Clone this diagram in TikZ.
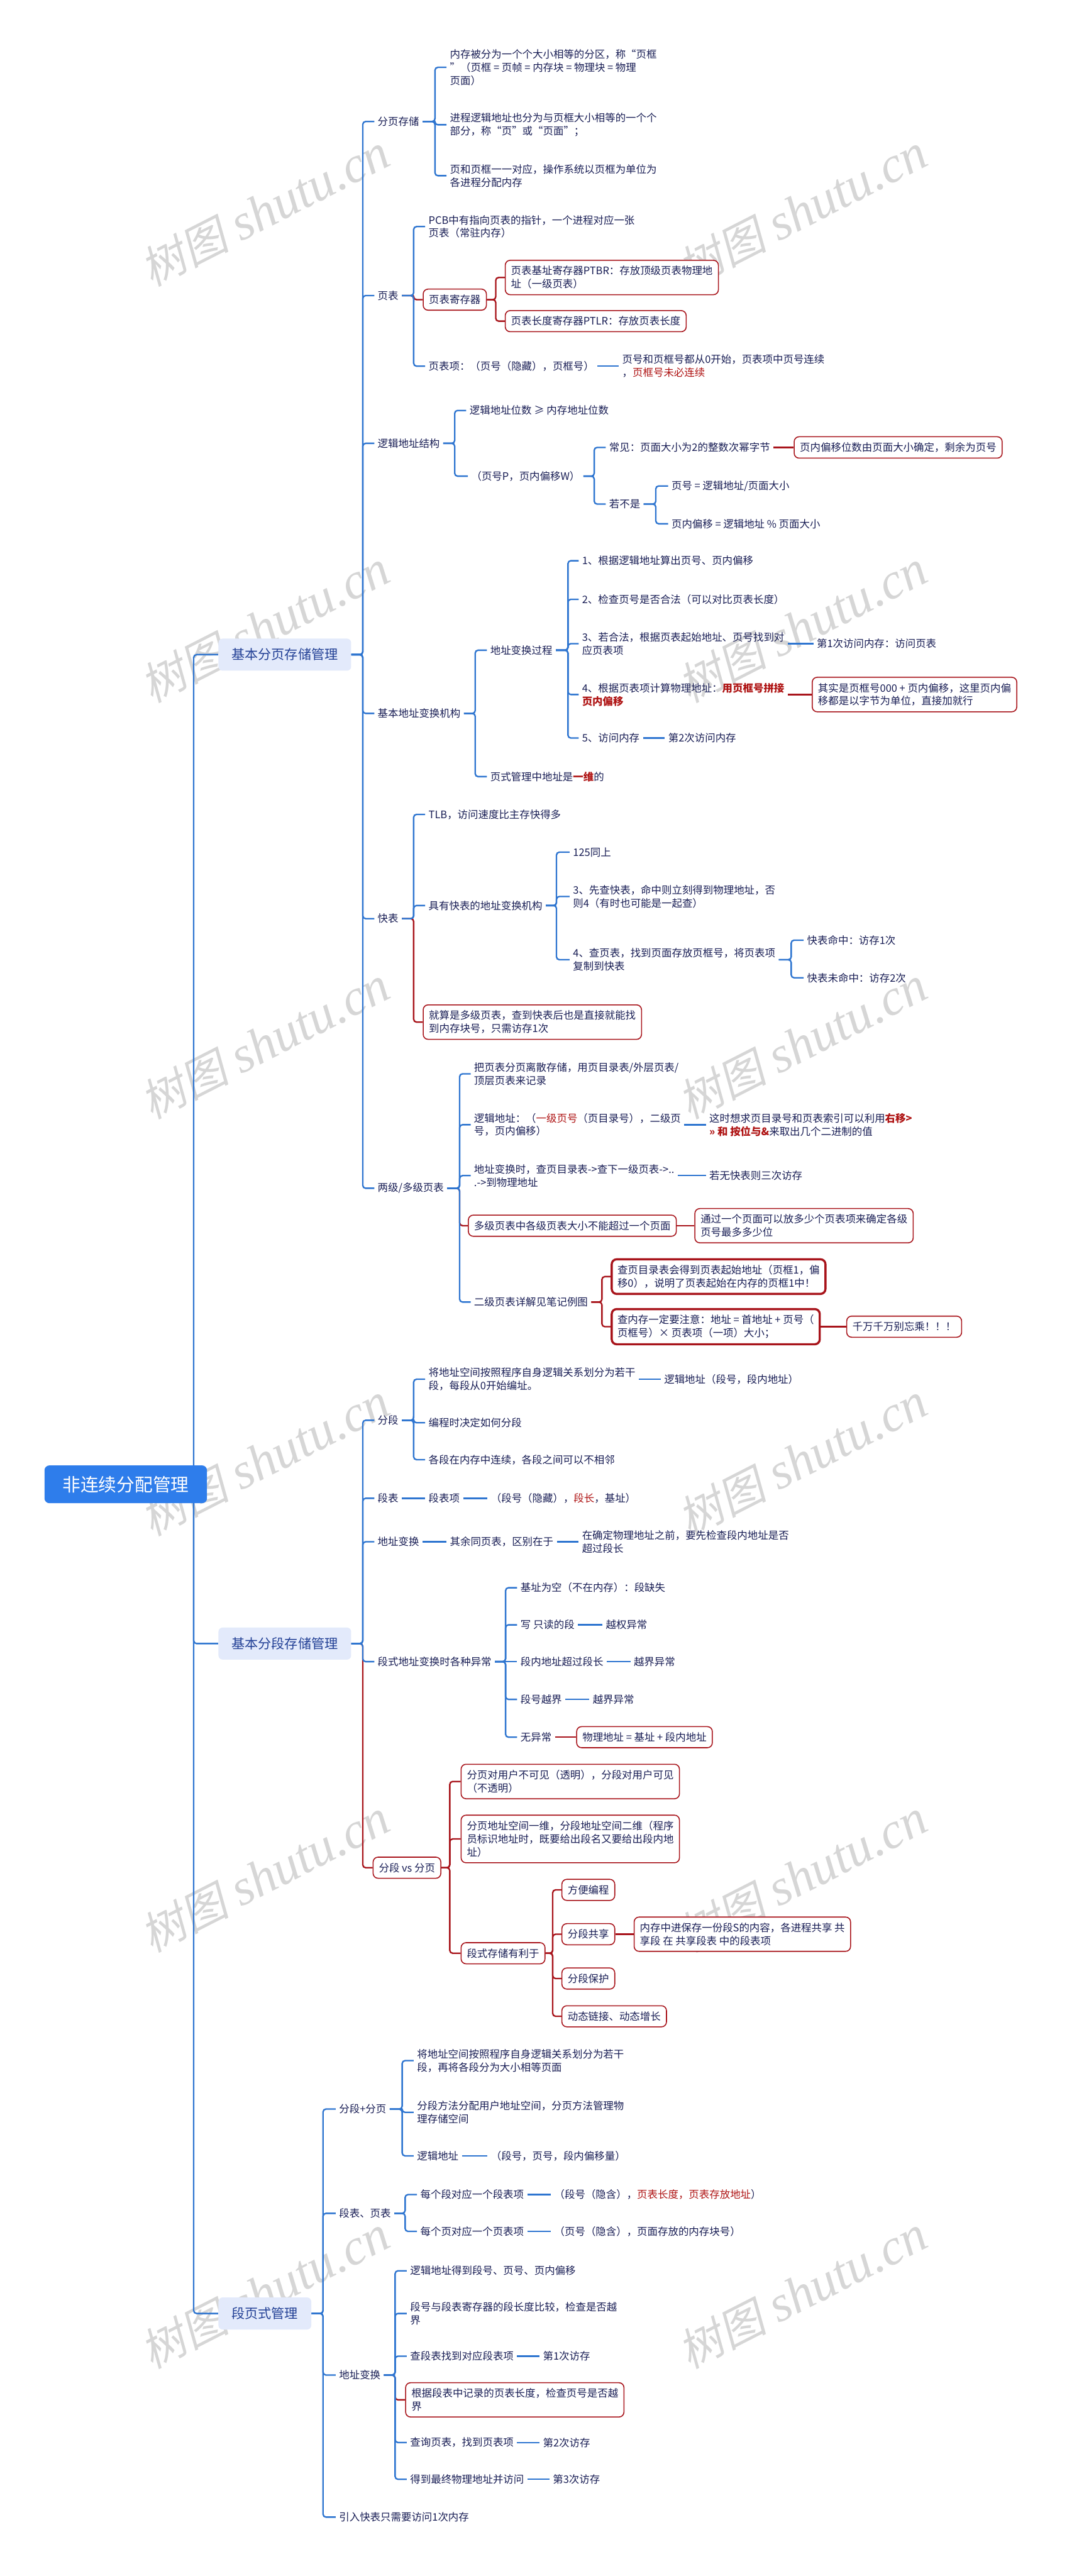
\documentclass[tikz,border=0pt]{standalone}
\usepackage{fontspec}
\setmainfont{Noto Sans CJK SC}
\newfontfamily\wmlat{Liberation Serif}
\newfontfamily\wmcjk[FakeSlant=0.2]{Noto Sans CJK SC}
\usetikzlibrary{calc}
\definecolor{navy}{RGB}{25,30,85}
\definecolor{lblue}{RGB}{46,117,208}
\definecolor{dred}{RGB}{168,20,27}
\definecolor{rtext}{RGB}{175,20,20}
\definecolor{lonefill}{RGB}{227,234,251}
\definecolor{lonetext}{RGB}{35,65,150}
\definecolor{rootblue}{RGB}{46,125,235}
\definecolor{wmgray}{RGB}{214,214,214}
\pgfdeclarelayer{bg}
\pgfsetlayers{bg,main}
\newcommand\rd[1]{{\color{rtext}#1}}
\newcommand\rdb[1]{{\bfseries\color{rtext}#1}}
\newcommand\mmbr[4]{\coordinate (tmpT) at (#4,0); \draw[conn,#1] (#2.east) -- (#2.east -| tmpT) |- (#3.west);}
\newcommand\mmch[3]{\draw[conn,#1] (#2.east) -- (#3.west);}
\newcommand\wmtxt{{\wmcjk\fontsize{54}{54}\selectfont 树图}\hspace{14pt}{\wmlat\itshape\fontsize{62}{62}\selectfont shutu.cn}}
\begin{document}
\begin{tikzpicture}[x=2pt,y=-2pt,
  tx/.style={anchor=west, xshift=-4pt, inner xsep=4pt, inner ysep=2pt, align=left, text=navy, font=\fontsize{12.6}{16}\selectfont},
  rbx/.style={anchor=west, draw=dred, line width=1.2pt, rounded corners=6pt, fill=white, inner xsep=7pt, inner ysep=7pt, align=left, text=navy, font=\fontsize{12.6}{16}\selectfont},
  trbx/.style={rbx, line width=2.6pt},
  lvone/.style={anchor=west, fill=lonefill, rounded corners=5pt, text=lonetext, font=\fontsize{16.2}{20}\selectfont, inner xsep=16pt, minimum height=39pt},
  rootst/.style={anchor=west, fill=rootblue, rounded corners=6pt, text=white, font=\fontsize{22}{26}\selectfont, inner xsep=22pt, minimum height=46pt},
  conn/.style={line width=1.8pt, rounded corners=3.5pt},
  wmst/.style={anchor=base west, rotate=27, text=wmgray, inner sep=0pt}
]
\useasboundingbox (0,0) rectangle (650,1568.9);

% root and level 1
\node[rootst] (root) at (27,904) {非连续分配管理};
\node[lvone] (P) at (133,398.7) {基本分页存储管理};
\node[lvone] (S) at (133,1001) {基本分段存储管理};
\node[lvone] (SP) at (133,1409) {段页式管理};

% ---------- 基本分页存储管理 ----------
\node[tx] (p1) at (230,74) {分页存储};
\node[tx] (p1a) at (274,41) {内存被分为一个个大小相等的分区，称“页框\\”（页框 = 页帧 = 内存块 = 物理块 = 物理\\页面）};
\node[tx] (p1b) at (274,76) {进程逻辑地址也分为与页框大小相等的一个个\\部分，称“页”或“页面”；};
\node[tx] (p1c) at (274,107) {页和页框一一对应，操作系统以页框为单位为\\各进程分配内存};

\node[tx] (p2) at (230,180) {页表};
\node[tx] (p2a) at (261,138) {PCB中有指向页表的指针，一个进程对应一张\\页表（常驻内存）};
\node[rbx] (p2b) at (257.5,182.5) {页表寄存器};
\node[rbx] (p2b1) at (307.5,169) {页表基址寄存器PTBR：存放顶级页表物理地\\址（一级页表）};
\node[rbx] (p2b2) at (307.5,195.6) {页表长度寄存器PTLR：存放页表长度};
\node[tx] (p2c) at (261,223) {页表项：（页号（隐藏），页框号）};
\node[tx] (p2c1) at (379,223) {页号和页框号都从0开始，页表项中页号连续\\，\rd{页框号未必连续}};

\node[tx] (p3) at (230,270) {逻辑地址结构};
\node[tx] (p3a) at (286,250) {逻辑地址位数 ≥ 内存地址位数};
\node[tx] (p3b) at (287,290) {（页号P，页内偏移W）};
\node[tx] (p3b1) at (371,272.5) {常见：页面大小为2的整数次幂字节};
\node[rbx] (p3b1a) at (483.5,272.5) {页内偏移位数由页面大小确定，剩余为页号};
\node[tx] (p3b2) at (371,307) {若不是};
\node[tx] (p3b2a) at (409,296) {页号 = 逻辑地址/页面大小};
\node[tx] (p3b2b) at (409,319) {页内偏移 = 逻辑地址 \% 页面大小};

\node[tx] (p4) at (230,434.5) {基本地址变换机构};
\node[tx] (p4a) at (298.6,396) {地址变换过程};
\node[tx] (p4a1) at (354.5,341.5) {1、根据逻辑地址算出页号、页内偏移};
\node[tx] (p4a2) at (354.5,365) {2、检查页号是否合法（可以对比页表长度）};
\node[tx] (p4a3) at (354.5,392) {3、若合法，根据页表起始地址、页号找到对\\应页表项};
\node[tx] (p4a3x) at (497.5,392) {第1次访问内存：访问页表};
\node[tx] (p4a4) at (354.5,423) {4、根据页表项计算物理地址：\rdb{用页框号拼接}\\\rdb{页内偏移}};
\node[rbx] (p4a4x) at (494.5,423) {其实是页框号000 + 页内偏移，这里页内偏\\移都是以字节为单位，直接加就行};
\node[tx] (p4a5) at (354.5,449.5) {5、访问内存};
\node[tx] (p4a5x) at (407,449.5) {第2次访问内存};
\node[tx] (p4b) at (298.6,473) {页式管理中地址是\rdb{一维}的};

\node[tx] (p5) at (230,559.5) {快表};
\node[tx] (p5a) at (261,496) {TLB，访问速度比主存快得多};
\node[tx] (p5b) at (261,551.5) {具有快表的地址变换机构};
\node[tx] (p5b1) at (349,519) {125同上};
\node[tx] (p5b2) at (349,546) {3、先查快表，命中则立刻得到物理地址，否\\则4（有时也可能是一起查）};
\node[tx] (p5b3) at (349,584.5) {4、查页表，找到页面存放页框号，将页表项\\复制到快表};
\node[tx] (p5b3a) at (491.6,572.6) {快表命中：访存1次};
\node[tx] (p5b3b) at (491.6,595.5) {快表未命中：访存2次};
\node[rbx] (p5c) at (257.5,622.5) {就算是多级页表，查到快表后也是直接就能找\\到内存块号，只需访存1次};

\node[tx] (p6) at (230,723.7) {两级/多级页表};
\node[tx] (p6a) at (288.7,654) {把页表分页离散存储，用页目录表/外层页表/\\顶层页表来记录};
\node[tx] (p6b) at (288.7,685) {逻辑地址：（\rd{一级页号}（页目录号），二级页\\号，页内偏移）};
\node[tx] (p6bx) at (432,685) {这时想求页目录号和页表索引可以利用\rdb{右移>}\\\rdb{>> 和 按位与\&}来取出几个二进制的值};
\node[tx] (p6c) at (288.7,716) {地址变换时，查页目录表->查下一级页表->..\\.->到物理地址};
\node[tx] (p6cx) at (432,716) {若无快表则三次访存};
\node[rbx] (p6d) at (285,746.5) {多级页表中各级页表大小不能超过一个页面};
\node[rbx] (p6dx) at (423,746.5) {通过一个页面可以放多少个页表项来确定各级\\页号最多多少位};
\node[tx] (p6e) at (288.7,793) {二级页表详解见笔记例图};
\node[trbx] (p6e1) at (372,777.5) {查页目录表会得到页表起始地址（页框1，偏\\移0），说明了页表起始在内存的页框1中！};
\node[trbx] (p6e2) at (372,808) {查内存一定要注意：地址 = 首地址 + 页号（\\页框号）× 页表项（一项）大小；};
\node[rbx] (p6e2x) at (515.5,808) {千万千万别忘乘！！！};

% ---------- 基本分段存储管理 ----------
\node[tx] (s1) at (230,865) {分段};
\node[tx] (s1a) at (261,840) {将地址空间按照程序自身逻辑关系划分为若干\\段，每段从0开始编址。};
\node[tx] (s1ax) at (404.5,840) {逻辑地址（段号，段内地址）};
\node[tx] (s1b) at (261,866.5) {编程时决定如何分段};
\node[tx] (s1c) at (261,889) {各段在内存中连续，各段之间可以不相邻};
\node[tx] (s2) at (230,912.5) {段表};
\node[tx] (s2a) at (261,912.5) {段表项};
\node[tx] (s2b) at (299,912.5) {（段号（隐藏），\rd{段长}，基址）};
\node[tx] (s3) at (230,939) {地址变换};
\node[tx] (s3a) at (274,939) {其余同页表，区别在于};
\node[tx] (s3b) at (354.5,939) {在确定物理地址之前，要先检查段内地址是否\\超过段长};
\node[tx] (s4) at (230,1012) {段式地址变换时各种异常};
\node[tx] (s4a) at (317,967) {基址为空（不在内存）：段缺失};
\node[tx] (s4b) at (317,989.6) {写 只读的段};
\node[tx] (s4bx) at (369,989.6) {越权异常};
\node[tx] (s4c) at (317,1012) {段内地址超过段长};
\node[tx] (s4cx) at (386,1012) {越界异常};
\node[tx] (s4d) at (317,1035) {段号越界};
\node[tx] (s4dx) at (361,1035) {越界异常};
\node[tx] (s4e) at (317,1058) {无异常};
\node[rbx] (s4ex) at (351,1058) {物理地址 = 基址 + 段内地址};
\node[rbx] (s5) at (227,1137.5) {分段 vs 分页};
\node[rbx] (s5a) at (280.6,1085) {分页对用户不可见（透明），分段对用户可见\\（不透明）};
\node[rbx] (s5b) at (280.6,1120) {分页地址空间一维，分段地址空间二维（程序\\员标识地址时，既要给出段名又要给出段内地\\址）};
\node[rbx] (s5c) at (280.6,1189.6) {段式存储有利于};
\node[rbx] (s5c1) at (342,1151) {方便编程};
\node[rbx] (s5c2) at (342,1178) {分段共享};
\node[rbx] (s5c2x) at (386,1178) {内存中进保存一份段S的内容，各进程共享 共\\享段 在 共享段表 中的段表项};
\node[rbx] (s5c3) at (342,1205) {分段保护};
\node[rbx] (s5c4) at (342,1228) {动态链接、动态增长};

% ---------- 段页式管理 ----------
\node[tx] (q1) at (206.5,1284.5) {分段+分页};
\node[tx] (q1a) at (254,1255) {将地址空间按照程序自身逻辑关系划分为若干\\段，再将各段分为大小相等页面};
\node[tx] (q1b) at (254,1286.5) {分段方法分配用户地址空间，分页方法管理物\\理存储空间};
\node[tx] (q1c) at (254,1313) {逻辑地址};
\node[tx] (q1cx) at (299,1313) {（段号，页号，段内偏移量）};
\node[tx] (q2) at (206.5,1348) {段表、页表};
\node[tx] (q2a) at (256,1336.6) {每个段对应一个段表项};
\node[tx] (q2ax) at (337.6,1336.6) {（段号（隐含），\rd{页表长度，页表存放地址}）};
\node[tx] (q2b) at (256,1359) {每个页对应一个页表项};
\node[tx] (q2bx) at (337.6,1359) {（页号（隐含），页面存放的内存块号）};
\node[tx] (q3) at (206.5,1446.5) {地址变换};
\node[tx] (q3a) at (249.8,1383) {逻辑地址得到段号、页号、页内偏移};
\node[tx] (q3b) at (249.8,1409) {段号与段表寄存器的段长度比较，检查是否越\\界};
\node[tx] (q3c) at (249.8,1435) {查段表找到对应段表项};
\node[tx] (q3cx) at (330.7,1435) {第1次访存};
\node[rbx] (q3d) at (246.8,1461.6) {根据段表中记录的页表长度，检查页号是否越\\界};
\node[tx] (q3e) at (249.8,1487.6) {查询页表，找到页表项};
\node[tx] (q3ex) at (330.7,1487.6) {第2次访存};
\node[tx] (q3f) at (249.8,1510) {得到最终物理地址并访问};
\node[tx] (q3fx) at (336.7,1510) {第3次访存};
\node[tx] (q4) at (206.5,1533) {引入快表只需要访问1次内存};

\begin{pgfonlayer}{bg}
\fill[white] (0,0) rectangle (650,1568.9);
\foreach \k in {0,...,5}{
  \node[wmst] at (92.5,{175+253.6*\k}) {\wmtxt};
  \node[wmst] at (420,{175+253.6*\k}) {\wmtxt};
}
% root connectors
\coordinate (rootT) at (118,0);
\foreach \c in {P,S,SP}{\draw[conn,lblue] (root.center) -- (root.center -| rootT) |- (\c.west);}

% red connectors first
\mmbr{dred}{p2}{p2b}{252}
\mmbr{dred}{p2b}{p2b1}{302}
\mmbr{dred}{p2b}{p2b2}{302}
\mmch{dred}{p3b1}{p3b1a}
\mmch{dred}{p4a4}{p4a4x}
\mmbr{dred}{p5}{p5c}{252}
\mmbr{dred}{p6}{p6d}{280}
\mmch{dred}{p6d}{p6dx}
\mmbr{dred}{p6e}{p6e1}{366.7}
\mmbr{dred}{p6e}{p6e2}{366.7}
\mmch{dred}{p6e2}{p6e2x}
\mmbr{dred}{S}{s5}{221}
\mmch{dred}{s4e}{s4ex}
\mmbr{dred}{s5}{s5a}{274}
\mmbr{dred}{s5}{s5b}{274}
\mmbr{dred}{s5}{s5c}{274}
\mmbr{dred}{s5c}{s5c1}{336.7}
\mmbr{dred}{s5c}{s5c2}{336.7}
\mmbr{dred}{s5c}{s5c3}{336.7}
\mmbr{dred}{s5c}{s5c4}{336.7}
\mmch{dred}{s5c2}{s5c2x}
\mmbr{dred}{q3}{q3d}{240.7}

% blue connectors
\foreach \c in {p1,p2,p3,p4,p5,p6}{\mmbr{lblue}{P}{\c}{221}}
\foreach \c in {p1a,p1b,p1c}{\mmbr{lblue}{p1}{\c}{265}}
\mmbr{lblue}{p2}{p2a}{252}
\mmbr{lblue}{p2}{p2c}{252}
\mmch{lblue}{p2c}{p2c1}
\mmbr{lblue}{p3}{p3a}{277}
\mmbr{lblue}{p3}{p3b}{277}
\mmbr{lblue}{p3b}{p3b1}{362}
\mmbr{lblue}{p3b}{p3b2}{362}
\mmbr{lblue}{p3b2}{p3b2a}{399.5}
\mmbr{lblue}{p3b2}{p3b2b}{399.5}
\mmbr{lblue}{p4}{p4a}{289.5}
\mmbr{lblue}{p4}{p4b}{289.5}
\foreach \c in {p4a1,p4a2,p4a3,p4a4,p4a5}{\mmbr{lblue}{p4a}{\c}{346}}
\mmch{lblue}{p4a3}{p4a3x}
\mmch{lblue}{p4a5}{p4a5x}
\mmbr{lblue}{p5}{p5a}{252}
\mmbr{lblue}{p5}{p5b}{252}
\foreach \c in {p5b1,p5b2,p5b3}{\mmbr{lblue}{p5b}{\c}{339}}
\mmbr{lblue}{p5b3}{p5b3a}{482}
\mmbr{lblue}{p5b3}{p5b3b}{482}
\foreach \c in {p6a,p6b,p6c,p6e}{\mmbr{lblue}{p6}{\c}{280}}
\mmch{lblue}{p6b}{p6bx}
\mmch{lblue}{p6c}{p6cx}

\foreach \c in {s1,s2,s3,s4}{\mmbr{lblue}{S}{\c}{221}}
\foreach \c in {s1a,s1b,s1c}{\mmbr{lblue}{s1}{\c}{252}}
\mmch{lblue}{s1a}{s1ax}
\mmch{lblue}{s2}{s2a}
\mmch{lblue}{s2a}{s2b}
\mmch{lblue}{s3}{s3a}
\mmch{lblue}{s3a}{s3b}
\foreach \c in {s4a,s4b,s4d,s4e}{\mmbr{lblue}{s4}{\c}{308}}
\mmch{lblue}{s4}{s4c}
\mmch{lblue}{s4b}{s4bx}
\mmch{lblue}{s4c}{s4cx}
\mmch{lblue}{s4d}{s4dx}

\foreach \c in {q1,q2,q3,q4}{\mmbr{lblue}{SP}{\c}{196.8}}
\foreach \c in {q1a,q1b,q1c}{\mmbr{lblue}{q1}{\c}{245}}
\mmch{lblue}{q1c}{q1cx}
\mmbr{lblue}{q2}{q2a}{246.8}
\mmbr{lblue}{q2}{q2b}{246.8}
\mmch{lblue}{q2a}{q2ax}
\mmch{lblue}{q2b}{q2bx}
\foreach \c in {q3a,q3b,q3c,q3e,q3f}{\mmbr{lblue}{q3}{\c}{240.7}}
\mmch{lblue}{q3c}{q3cx}
\mmch{lblue}{q3e}{q3ex}
\mmch{lblue}{q3f}{q3fx}
\end{pgfonlayer}
\end{tikzpicture}
\end{document}
